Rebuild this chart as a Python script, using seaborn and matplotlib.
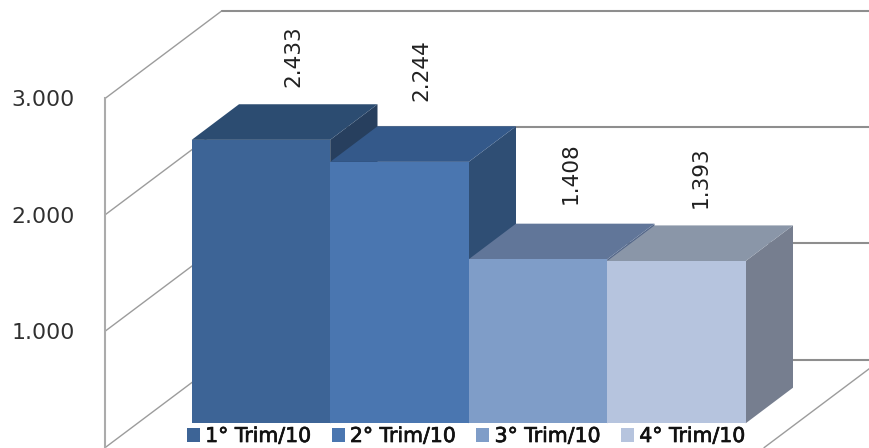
import matplotlib
matplotlib.use("Agg")
import matplotlib.pyplot as plt
import matplotlib.patheffects as pe
from matplotlib.patches import Polygon
import seaborn as sns

categories = ["1° Trim/10", "2° Trim/10", "3° Trim/10", "4° Trim/10"]
values = [2.433, 2.244, 1.408, 1.393]
value_labels = ["2.433", "2.244", "1.408", "1.393"]
axis_ticks = [1, 2, 3]

front_colors = ["#3D6496", "#4A76B0", "#7F9DC8", "#B6C4DE"]
top_colors = ["#2C4C71", "#34598A", "#617699", "#8A96A8"]
side_colors = ["#273F5E", "#2F4E74", "#55688A", "#767E8F"]
label_dx = [32, 22, 33, 24]
label_dy = [83.5, 92, 86, 83.5]

W, H = 869, 448
PX_PER_UNIT = 116.4
BAR_W = 138.5

sns.set_style("white")
fig = plt.figure(figsize=(W / 100, H / 100), dpi=100)
fig.patch.set_facecolor("white")

# ---- walls: value axis with grid lines running back in depth
left, zero_y = 105, 447.7
ax = fig.add_axes([left / W, 0, (W - left) / W, 1])
ax.set_xlim(left, W)
ax.set_ylim((zero_y - H) / PX_PER_UNIT, zero_y / PX_PER_UNIT)
wall_dx, wall_dy = 117, 87.8 / PX_PER_UNIT
back_right = 881
grid_kw = dict(color="#9C9C9C", lw=1.0, solid_capstyle="round")
for v in [0] + axis_ticks:
    ax.plot([left, left + wall_dx], [v, v + wall_dy], **grid_kw)
    ax.plot([left + wall_dx, back_right], [v + wall_dy, v + wall_dy],
            color="#8E8E8E", lw=1.5)
ax.plot([back_right, back_right - wall_dx], [wall_dy, 0], **grid_kw)
ax.set_yticks(axis_ticks)
ax.set_yticklabels([f"{t:.3f}" for t in axis_ticks])
ax.set_xticks([])
ax.tick_params(axis="y", length=0, pad=22, labelsize=15.8, labelcolor="#303030")
for s in ["top", "right", "bottom"]:
    ax.spines[s].set_visible(False)
ax.spines["left"].set_color("#ABABAB")
ax.spines["left"].set_linewidth(1.5)
ax.spines["left"].set_bounds(ax.get_ylim()[0], axis_ticks[-1])

# ---- bars
base_x, base_y = 191.7, 423.3
ax_b = fig.add_axes([0, 0, 1, 1], facecolor="none")
sns.barplot(x=categories, y=values, hue=categories, palette=front_colors,
            width=1, saturation=1, legend=False, ax=ax_b, edgecolor="none")
ax_b.set_xlim(-0.5 - base_x / BAR_W, -0.5 + (W - base_x) / BAR_W)
ax_b.set_ylim((base_y - H) / 116.5, base_y / 116.5)
ax_b.axis("off")

depth_x, depth_y = 47.3 / BAR_W, 35.6 / 116.5
bars = list(ax_b.patches)
for i, bar in enumerate(bars):
    x0, w, h = bar.get_x(), bar.get_width(), bar.get_height()
    x1 = x0 + w
    bar.set_zorder(20)
    ax_b.add_patch(Polygon([(x1, 0), (x1 + depth_x, depth_y),
                            (x1 + depth_x, h + depth_y), (x1, h)],
                           facecolor=side_colors[i], edgecolor="none", zorder=3 + i))
    ax_b.add_patch(Polygon([(x0, h), (x1, h), (x1 + depth_x, h + depth_y),
                            (x0 + depth_x, h + depth_y)],
                           facecolor=top_colors[i], edgecolor="none", zorder=3 + i))
    ax_b.annotate(value_labels[i], xy=(x0 + w / 2, h),
                  xytext=(label_dx[i], label_dy[i]), textcoords="offset pixels",
                  rotation=90, ha="center", va="center", fontsize=15.6,
                  color="#202020", annotation_clip=False, zorder=30)

leg = ax_b.legend(handles=bars, labels=categories, ncol=4, frameon=False,
                  loc="lower left", bbox_to_anchor=(187 / W, 2 / H),
                  bbox_transform=fig.transFigure, borderpad=0, borderaxespad=0,
                  fontsize=14.7, handlelength=0.64, handleheight=0.64,
                  handletextpad=0.25, columnspacing=1.0)
leg.set_zorder(40)
for t in leg.get_texts():
    t.set_color("#111111")
    t.set_path_effects([pe.withStroke(linewidth=0.5, foreground="#111111")])

fig.savefig("out.png", dpi=100)
